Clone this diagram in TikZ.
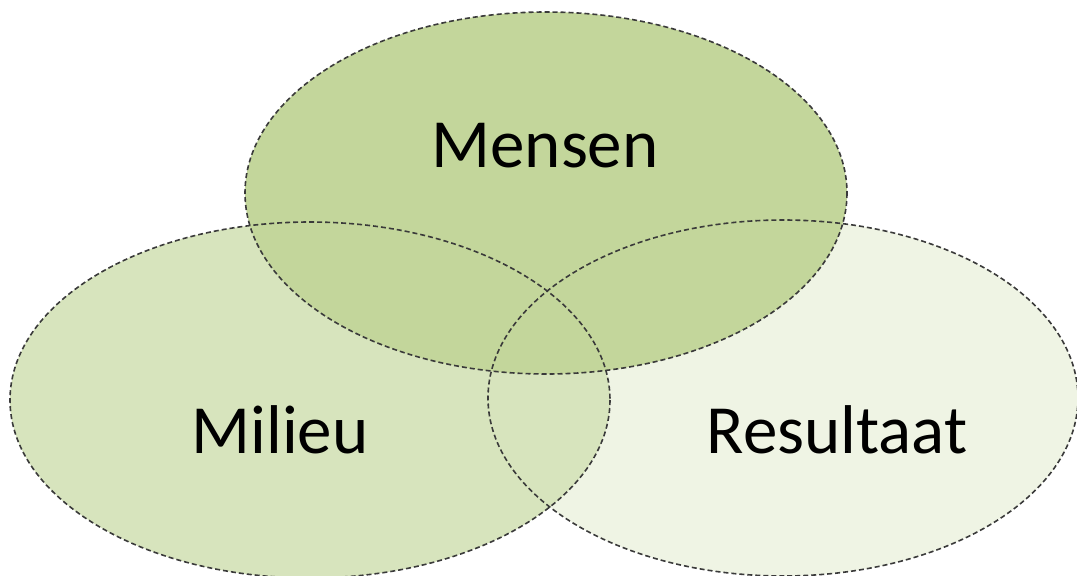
\documentclass[tikz,border=0pt]{standalone}
\usepackage{fontspec}
\setmainfont{Carlito}
\definecolor{gtop}{HTML}{C3D69B}
\definecolor{gleft}{HTML}{D7E4BD}
\definecolor{gright}{HTML}{EFF4E4}
\definecolor{edge}{HTML}{3A3A3A}
\begin{document}
\begin{tikzpicture}[x=1pt,y=-1pt,
  outline/.style={draw=edge,line width=1.6pt,dash pattern=on 5pt off 3pt},
  lbl/.style={font=\fontsize{69}{78}\selectfont,text=black,inner sep=0pt}]
\useasboundingbox (0,0) rectangle (1077,576);
\begin{scope}
\clip (0,0) rectangle (1077,576);
\fill[gright] (783,398) ellipse [x radius=295, y radius=178];
\fill[gleft] (310,400) ellipse [x radius=300, y radius=178];
\fill[gtop] (546,193) ellipse [x radius=301, y radius=181];
\draw[outline] (783,398) ellipse [x radius=295, y radius=178];
\draw[outline] (310,400) ellipse [x radius=300, y radius=178];
\draw[outline] (546,193) ellipse [x radius=301, y radius=181];
\end{scope}
\node[lbl] (mensen) at (545,146) {Mensen};
\node[lbl] (milieu) at (280,430) {Milieu};
\node[lbl] (resultaat) at (837,430) {Resultaat};
\end{tikzpicture}
\end{document}
